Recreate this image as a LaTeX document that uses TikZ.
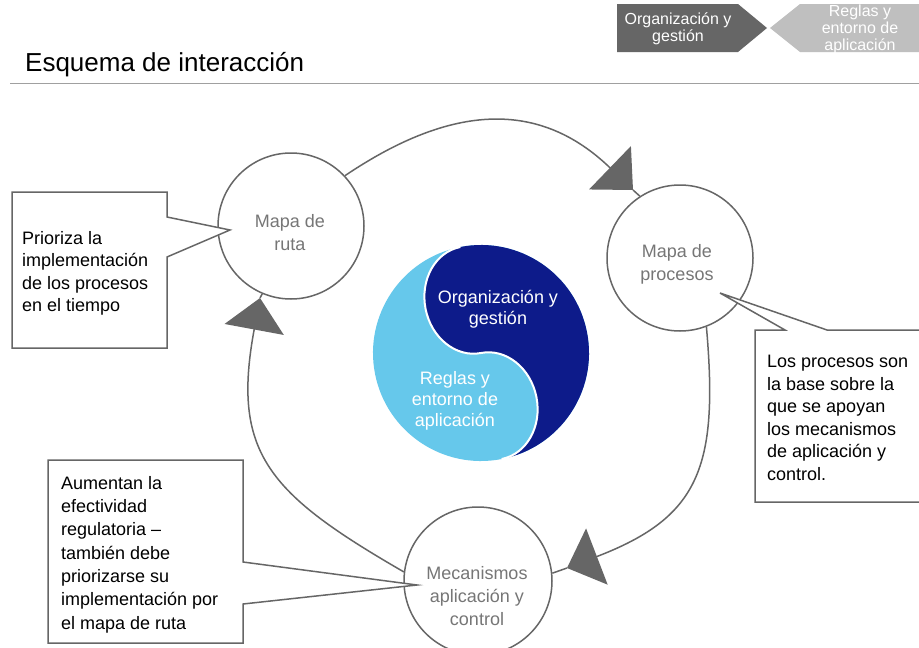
\documentclass[tikz,border=0pt]{standalone}
\usepackage{fontspec}
\setmainfont{Liberation Sans}
\usetikzlibrary{arrows.meta}
\definecolor{linegray}{RGB}{102,102,102}
\definecolor{txtgray}{RGB}{118,118,118}
\definecolor{hdark}{RGB}{102,102,102}
\definecolor{hlight}{RGB}{191,191,191}
\definecolor{ydark}{RGB}{13,27,138}
\definecolor{ylight}{RGB}{102,200,235}
\definecolor{rulegray}{RGB}{160,160,160}
\tikzset{
  circ/.style={circle, draw=linegray, line width=1.5pt, fill=white, minimum size=146pt, inner sep=0pt},
  ctext/.style={text=txtgray, font=\fontsize{18}{23}\selectfont, align=center, inner sep=0pt},
  ytext/.style={text=white, font=\fontsize{18}{21}\selectfont, align=center, inner sep=0pt},
  htext/.style={text=white, font=\fontsize{16}{17}\selectfont, align=center, inner sep=0pt},
  conn/.style={draw=linegray, line width=1.5pt},
  tipped/.style={conn, -{Triangle[width=60pt,length=32pt]}, fill=none},
  callout/.style={draw=linegray, line width=1.5pt, fill=white},
  ctxt/.style={text=black, font=\fontsize{18}{22.5}\selectfont, align=left, anchor=north west, inner sep=0pt}
}
\begin{document}
\begin{tikzpicture}[x=1pt,y=1pt]
\useasboundingbox (0,0) rectangle (919,-648);
\fill[white] (0,0) rectangle (919,-648);

% header
\fill[hdark] (617,-4) -- (738,-4) -- (767,-28) -- (738,-52) -- (617,-52) -- cycle;
\node[htext] (h1) at (678,-29) {Organización y\\gestión};
\fill[hlight] (770,-28) -- (800,-4) -- (919,-4) -- (919,-52) -- (800,-52) -- cycle;
\node[htext] (h2) at (860,-29.5) {Reglas y\\entorno de\\aplicación};

% title
\node[anchor=base west, font=\fontsize{26}{30}\selectfont, inner sep=0pt] (title) at (25,-71) {Esquema de interacción};
\draw[rulegray, line width=1pt] (10,-83) -- (919,-83);

% yin-yang
\begin{scope}[shift={(481,-353)}, rotate=11]
  \fill[ylight] (0,0) circle[radius=108];
  \fill[ydark] (0,108) arc[start angle=90, end angle=-90, radius=108]
     arc[start angle=-90, end angle=90, x radius=46, y radius=54]
     arc[start angle=-90, end angle=-270, x radius=46, y radius=54] -- cycle;
  \draw[white, line width=2pt] (0,-108)
     arc[start angle=-90, end angle=90, x radius=46, y radius=54]
     arc[start angle=-90, end angle=-270, x radius=46, y radius=54];
\end{scope}
\node[ytext] (yorg) at (498,-309) {Organización y\\gestión};
\node[ytext] (yreg) at (455,-401) {Reglas y\\entorno de\\aplicación};

% circles
\node[circ] (ruta) at (291,-226) {};
\node[circ] (proc) at (680,-258) {};
\node[circ, minimum size=148pt] (mec) at (478,-581) {};

% cycle connectors
\coordinate (tip1) at (633,-190);
\coordinate (tip2) at (567,-568);
\coordinate (tip3) at (260,-298);
\draw[tipped] (ruta.43) to[out=34,in=136,looseness=1.15] (tip1);
\draw[conn] (tip1) -- (proc.123);
\draw[tipped] (proc.-69) to[out=-85,in=21,looseness=1.3] (tip2);
\draw[conn] (tip2) -- (mec.6);
\draw[tipped] (mec.173) to[out=150,in=-100.5,looseness=1.3] (tip3);
\draw[conn] (tip3) -- (ruta.247);

% circle texts
\node[ctext] (rutat) at (290,-233) {Mapa de\\ruta};
\node[ctext] (proct) at (677,-264) {Mapa de\\procesos};
\node[ctext] (mect) at (477,-596) {Mecanismos\\aplicación y\\control};

% callouts
\draw[callout] (12,-192) -- (167,-192) -- (167,-217) -- (230,-230) -- (167,-257) -- (167,-348) -- (12,-348) -- cycle;
\node[ctxt] (c1) at (22,-231) {Prioriza la\\implementación\\de los procesos\\en el tiempo};

\draw[callout] (755,-330) -- (785,-330) -- (720,-293) -- (827,-330) -- (925,-330) -- (925,-502) -- (755,-502) -- cycle;
\node[ctxt] (c2) at (767,-355) {Los procesos son\\la base sobre la\\que se apoyan\\los mecanismos\\de aplicación y\\control.};

\draw[callout] (48,-460) -- (243,-460) -- (243,-562) -- (417,-585) -- (243,-604) -- (243,-643) -- (48,-643) -- cycle;
\node[ctxt, font=\fontsize{18}{23.3}\selectfont] (c3) at (61,-476) {Aumentan la\\efectividad\\regulatoria –\\también debe\\priorizarse su\\implementación por\\el mapa de ruta};
\end{tikzpicture}
\end{document}
